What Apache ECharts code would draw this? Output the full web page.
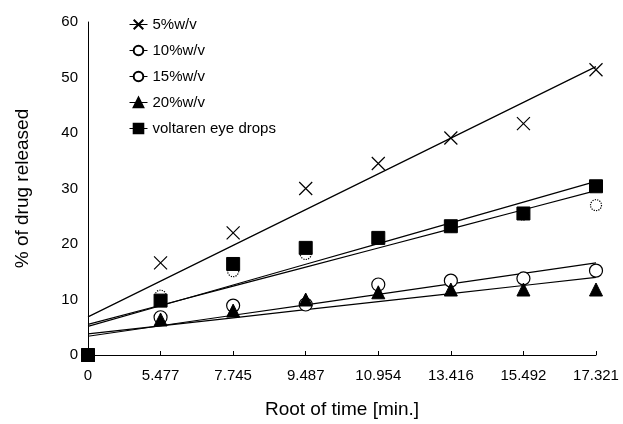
<!DOCTYPE html>
<html>
<head>
<meta charset="utf-8">
<script src="https://cdn.jsdelivr.net/npm/echarts@6/dist/echarts.min.js"></script>
<style>
  html, body { margin: 0; padding: 0; background: #fff; }
  #chart { width: 623px; height: 424px; }
</style>
</head>
<body>
<div id="chart"></div>
<script>
// root of time categories
var categories = ['0', '5.477', '7.745', '9.487', '10.954', '13.416', '15.492', '17.321']
var yTicks = [0, 10, 20, 30, 40, 50, 60]

// % of drug released
var w5 = [0, 16.6, 22, 30, 34.5, 39.1, 41.7, 51.4]
var w10 = [0, 6.8, 8.9, 9.1, 12.7, 13.4, 13.8, 15.2]
var w15 = [0, 10.7, 15.1, 18.2, 21, 23.2, 25.3, 27]
var w20 = [0, 6.4, 8, 10, 11.3, 11.8, 11.8, 11.8]
var voltaren = [0, 9.8, 16.4, 19.3, 21.1, 23.2, 25.5, 30.4]

var names = ['5%w/v', '10%w/v', '15%w/v', '20%w/v', 'voltaren eye drops']

// least squares line over the category index (like an excel trendline)
function trend(arr) {
  var n = arr.length, sx = 0, sy = 0, sxy = 0, sxx = 0
  for (var i = 0; i < n; i++) {
    sx += i; sy += arr[i]; sxy += i * arr[i]; sxx += i * i
  }
  var b = (n * sxy - sx * sy) / (n * sxx - sx * sx)
  var a = (sy - b * sx) / n
  return arr.map(function(v, i) { return +(a + b * i).toFixed(3) })
}

var chart = echarts.init(document.getElementById('chart'))

var markStyle = { color: '#000', borderColor: '#000', borderWidth: 1 }
var hollow = { color: '#fff', borderColor: '#000', borderWidth: 1.2 }

function pts(name, data, symbol, size, style) {
  return {
    name: name,
    type: 'line',
    data: data,
    symbol: symbol,
    symbolSize: size,
    showAllSymbol: true,
    lineStyle: { width: 0, opacity: 0 },
    itemStyle: style,
    z: 3,
    animation: false
  }
}

function trendLine(data) {
  return {
    type: 'line',
    data: trend(data),
    symbol: 'none',
    lineStyle: { color: '#000', width: 1.2 },
    silent: true,
    z: 2,
    animation: false
  }
}

var option = {
  backgroundColor: '#fff',
  textStyle: { fontFamily: 'Liberation Sans', color: '#000' },
  grid: { left: 88, right: 27, top: 22, bottom: 66, containLabel: false },
  legend: {
    data: names,
    orient: 'vertical',
    left: 124,
    top: 12,
    itemGap: 11,
    itemWidth: 18,
    itemHeight: 12,
    textStyle: { fontSize: 15, color: '#000', fontFamily: 'Liberation Sans' },
    lineStyle: { width: 1, color: '#000', opacity: 1 },
    inactiveColor: '#000'
  },
  xAxis: {
    type: 'category',
    data: categories,
    boundaryGap: false,
    name: 'Root of time [min.]',
    nameLocation: 'middle',
    nameGap: 45,
    nameTextStyle: { fontSize: 19, color: '#000' },
    axisLine: { lineStyle: { color: '#000', width: 1 } },
    axisTick: { inside: true, length: 4, lineStyle: { color: '#000' } },
    axisLabel: { fontSize: 15, color: '#000', margin: 13 },
    splitLine: { show: false }
  },
  yAxis: {
    type: 'value',
    min: yTicks[0],
    max: yTicks[yTicks.length - 1],
    interval: 10,
    name: '% of drug released',
    nameLocation: 'middle',
    nameGap: 56,
    nameTextStyle: { fontSize: 19, color: '#000' },
    axisLine: { show: true, lineStyle: { color: '#000', width: 1 } },
    axisTick: { show: false },
    axisLabel: { fontSize: 15, color: '#000', margin: 10 },
    splitLine: { show: false }
  },
  series: [
    pts(names[0], w5, 'path://M0,0L10,10M10,0L0,10', 13, { color: 'none', borderColor: '#000', borderWidth: 1.2 }),
    pts(names[1], w10, 'circle', 13, hollow),
    pts(names[2], w15, 'circle', 11, { color: '#fff', borderColor: '#000', borderWidth: 1.2, borderType: 'dotted' }),
    pts(names[3], w20, 'triangle', 13, markStyle),
    pts(names[4], voltaren, 'rect', 13, markStyle),
    trendLine(w5),
    trendLine(w10),
    trendLine(w15),
    trendLine(w20),
    trendLine(voltaren)
  ]
}

chart.setOption(option)
window.onresize = function() {
  chart.resize()
}
</script>
</body>
</html>
